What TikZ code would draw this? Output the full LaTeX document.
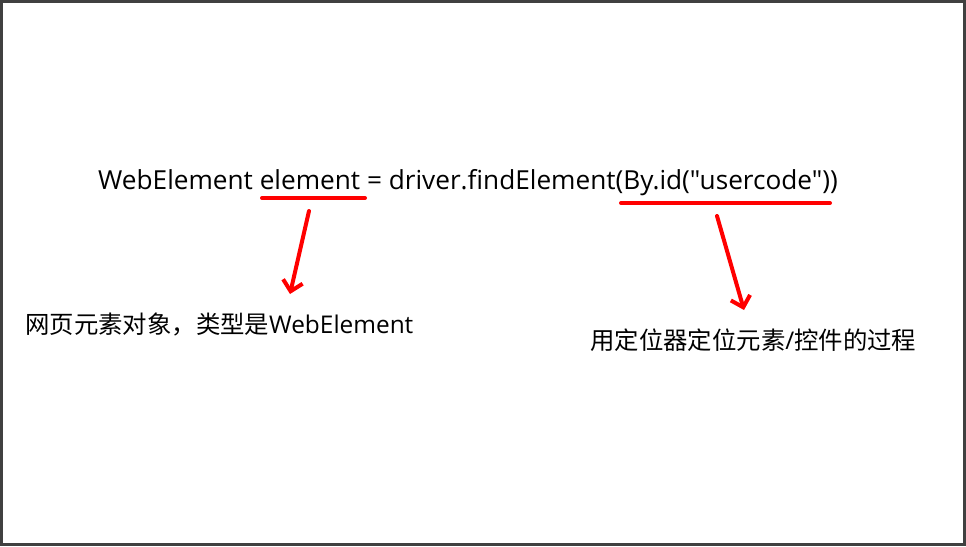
\documentclass[tikz,border=0pt]{standalone}
\usepackage{fontspec}
\setmainfont{Noto Sans CJK SC}
\newfontfamily\latin{Open Sans}
\usetikzlibrary{arrows.meta}
\definecolor{frame}{HTML}{404040}
\definecolor{mark}{HTML}{FF0000}
\newcommand{\dq}{\symbol{34}}
\tikzset{
  txt/.style={inner sep=0pt, anchor=west, text=black},
  uline/.style={draw=mark, line width=4pt, line cap=round},
  arr/.style={draw=mark, line width=4pt, line cap=round, -{Straight Barb[length=10pt,width=20pt,line width=4pt]}}
}
\begin{document}
\begin{tikzpicture}[x=1pt,y=-1pt]
\useasboundingbox (0,0) rectangle (966,546);
\draw[frame, line width=3pt] (1.5,1.5) rectangle (964.5,544.5);
\node[txt, font=\latin\fontsize{26.2}{30}\selectfont] (code) at (98,183) {WebElement element = driver.findElement(By.id(\dq usercode\dq))};
\node[txt, font=\fontsize{24.4}{28}\selectfont] (lab1) at (25,325) {网页元素对象，类型是{\latin WebElement}};
\node[txt, font=\fontsize{24.4}{28}\selectfont] (lab2) at (590,340) {用定位器定位元素{\latin /}控件的过程};
\coordinate (u1a) at (262,198);
\coordinate (u1b) at (365,198);
\coordinate (u2a) at (621,203);
\coordinate (u2b) at (830,203);
\coordinate (a1s) at (309,211);
\coordinate (a1e) at (290,294);
\coordinate (a2s) at (717,216);
\coordinate (a2e) at (744,310);
\draw[uline] (u1a) -- (u1b);
\draw[uline] (u2a) -- (u2b);
\draw[arr] (a1s) -- (a1e);
\draw[arr] (a2s) -- (a2e);
\end{tikzpicture}
\end{document}
